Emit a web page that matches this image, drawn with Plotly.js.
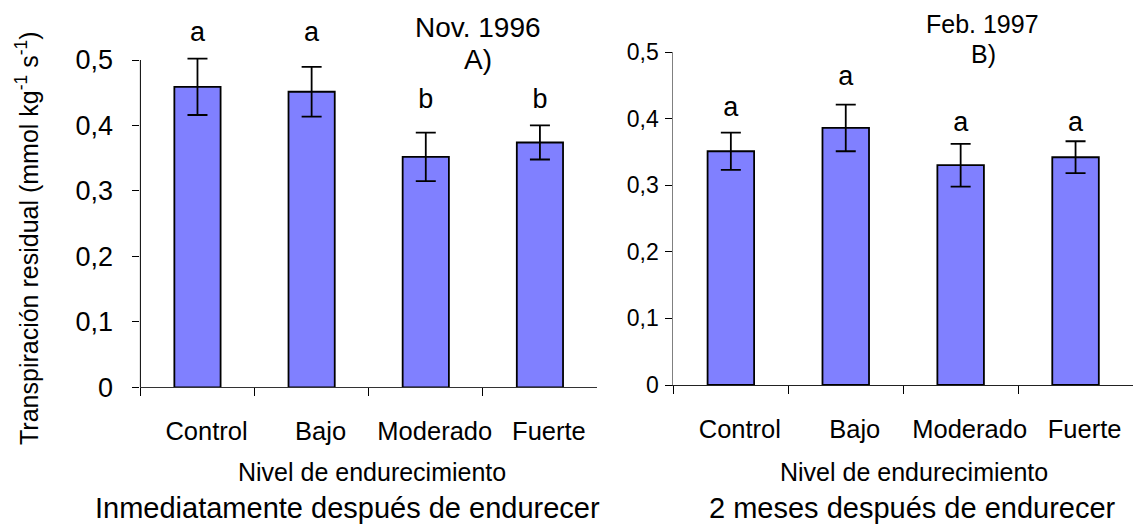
<!DOCTYPE html>
<html>
<head>
<meta charset="utf-8">
<script src="https://cdn.plot.ly/plotly-3.0.1.min.js"></script>
<style>html,body{margin:0;padding:0;background:#fff}#chart{width:1133px;height:529px}</style>
</head>
<body>
<div id="chart"></div>
<script>
// ---- data ----
const categories = ["Control", "Bajo", "Moderado", "Fuerte"];
const valuesNov1996 = [0.459, 0.4515, 0.352, 0.374];
const errorsNov1996 = [0.043, 0.038, 0.037, 0.026];
const lettersNov1996 = ["a", "a", "b", "b"];
const valuesFeb1997 = [0.351, 0.386, 0.330, 0.342];
const errorsFeb1997 = [0.028, 0.035, 0.032, 0.024];
const lettersFeb1997 = ["a", "a", "a", "a"];
const yTickVals = [0, 0.1, 0.2, 0.3, 0.4, 0.5];
const yTickText = ["0", "0,1", "0,2", "0,3", "0,4", "0,5"];

// ---- layout helpers ----
const W = 1133, H = 529;
const px = x => x / W;
const py = y => 1 - y / H;
const FONT = "Liberation Sans, Arial, sans-serif";
// letter label heights (data units) placed above the bars
const letterYNov = [0.540, 0.540, 0.437, 0.437];
const letterYFeb = [0.414, 0.461, 0.391, 0.391];

const barStyle = {color: "#8080FF", line: {color: "#000", width: 1.8}};
const errStyle = {type: "data", visible: true, color: "#000", thickness: 1.8, width: 10};
const letterFont = {family: FONT, size: 27, color: "#000"};

const traces = [
  {type: "bar", x: categories, y: valuesNov1996, xaxis: "x", yaxis: "y",
   marker: barStyle, error_y: Object.assign({array: errorsNov1996}, errStyle),
   hoverinfo: "none"},
  {type: "bar", x: categories, y: valuesFeb1997, xaxis: "x2", yaxis: "y2",
   marker: barStyle, error_y: Object.assign({array: errorsFeb1997}, errStyle),
   hoverinfo: "none"},
  {type: "scatter", mode: "text", x: categories, y: letterYNov, text: lettersNov1996,
   textposition: "middle center", textfont: letterFont,
   xaxis: "x", yaxis: "y", hoverinfo: "none"},
  {type: "scatter", mode: "text", x: categories, y: letterYFeb, text: lettersFeb1997,
   textposition: "middle center", textfont: letterFont,
   xaxis: "x2", yaxis: "y2", hoverinfo: "none"}
];

const annotations = [];
function txt(text, x, y, size, angle) {
  annotations.push({text: text, x: px(x), y: py(y), xref: "paper", yref: "paper",
    showarrow: false, xanchor: "center", yanchor: "middle", textangle: angle || 0,
    font: {family: FONT, size: size, color: "#000"}});
}
txt("Transpiración residual (mmol kg<sup>-1</sup> s<sup>-1</sup>)", 27, 238, 25, -90);
txt("Nivel de endurecimiento", 372, 472, 25);
txt("Nivel de endurecimiento", 914, 472, 25);
txt("Inmediatamente después de endurecer", 347, 508, 29);
txt("2 meses después de endurecer", 912, 508, 29);
txt("Nov. 1996", 478, 27, 28);
txt("A)", 478, 60, 28);
txt("Feb. 1997", 982, 24, 25);
txt("B)", 983, 54, 25);

// left panel: axis range extended a little above 0,5 so that the letters fit; axis line drawn up to 0,5
const leftTop = 0.56;
const left0 = 387.3, leftPerUnit = (387.3 - 60) / 0.5;

const shapes = [
  {type: "line", xref: "x domain", yref: "y", x0: 0, x1: 0, y0: 0, y1: 0.5,
   line: {color: "#000", width: 1}, layer: "above"}
];

const xBase = {type: "category", range: [-0.5, 3.5], showline: true, linewidth: 1,
  ticks: "outside", tickson: "boundaries", ticklen: 8, tickcolor: "#000", tickwidth: 1,
  showgrid: false, zeroline: false, fixedrange: true, tickangle: 0, automargin: false,
  tickfont: {family: FONT, size: 25.5, color: "#000"}, ticklabelstandoff: 21, ticklabelshift: 9};
const yBase = {tickvals: yTickVals, ticktext: yTickText,
  linewidth: 1, ticks: "outside", ticklen: 7, tickcolor: "#000", tickwidth: 1,
  showgrid: false, zeroline: false, fixedrange: true, automargin: false};

const layout = {
  width: W, height: H, margin: {l: 0, r: 0, t: 0, b: 0},
  paper_bgcolor: "#fff", plot_bgcolor: "rgba(0,0,0,0)", showlegend: false, bargap: 0.595,
  font: {family: FONT, color: "#000"},
  xaxis: Object.assign({}, xBase, {domain: [px(140.4), px(597)], anchor: "y", linecolor: "#333"}),
  yaxis: Object.assign({}, yBase, {range: [0, leftTop], showline: false,
    domain: [py(left0), py(left0 - leftTop * leftPerUnit)], anchor: "x",
    tickfont: {family: FONT, size: 27, color: "#000"}, ticklabelstandoff: 14}),
  xaxis2: Object.assign({}, xBase, {domain: [px(673.4), 1], anchor: "y2", linecolor: "#222"}),
  yaxis2: Object.assign({}, yBase, {range: [0, 0.5], showline: true, domain: [py(385), py(52)],
    anchor: "x2", linecolor: "#808080",
    tickfont: {family: FONT, size: 23, color: "#000"}, ticklabelstandoff: 2}),
  shapes: shapes,
  annotations: annotations
};

Plotly.newPlot("chart", traces, layout, {displayModeBar: false, staticPlot: true});
</script>
</body>
</html>
